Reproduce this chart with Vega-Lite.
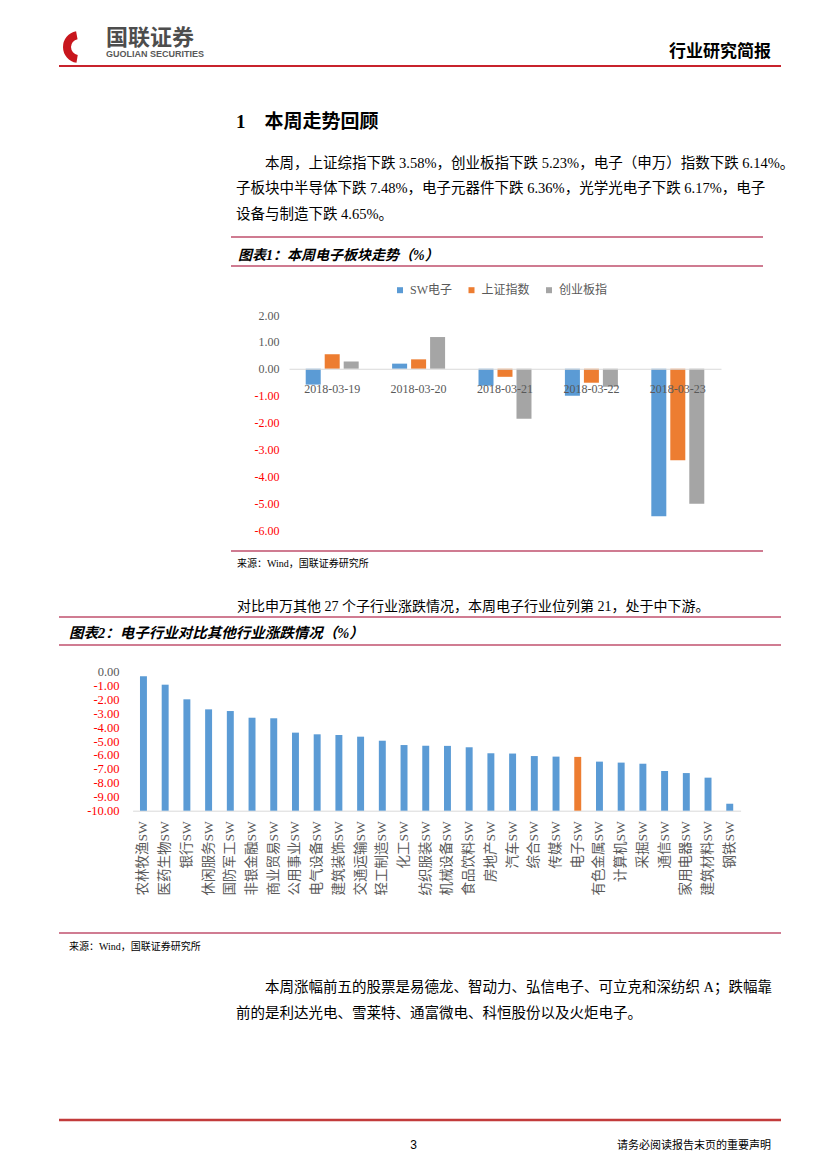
{
  "$schema": "https://vega.github.io/schema/vega-lite/v6.json",
  "padding": {"left": 57, "right": 45, "top": 0, "bottom": 0},
  "background": "white",
  "spacing": 0,
  "bounds": "flush",
  "config": {"view": {"stroke": null}, "concat": {"spacing": 0}, "axis": {"grid": false}},
  "datasets": {
    "weekly": [
      {"date": "2018-03-19", "series": "SW电子", "value": -0.59},
      {"date": "2018-03-19", "series": "上证指数", "value": 0.54},
      {"date": "2018-03-19", "series": "创业板指", "value": 0.27},
      {"date": "2018-03-20", "series": "SW电子", "value": 0.19},
      {"date": "2018-03-20", "series": "上证指数", "value": 0.35},
      {"date": "2018-03-20", "series": "创业板指", "value": 1.18},
      {"date": "2018-03-21", "series": "SW电子", "value": -0.63},
      {"date": "2018-03-21", "series": "上证指数", "value": -0.30},
      {"date": "2018-03-21", "series": "创业板指", "value": -1.86},
      {"date": "2018-03-22", "series": "SW电子", "value": -1.00},
      {"date": "2018-03-22", "series": "上证指数", "value": -0.52},
      {"date": "2018-03-22", "series": "创业板指", "value": -0.67},
      {"date": "2018-03-23", "series": "SW电子", "value": -5.49},
      {"date": "2018-03-23", "series": "上证指数", "value": -3.40},
      {"date": "2018-03-23", "series": "创业板指", "value": -5.02}
    ],
    "industry": [
      {"industry": "农林牧渔SW", "change": -0.36},
      {"industry": "医药生物SW", "change": -0.96},
      {"industry": "银行SW", "change": -2.01},
      {"industry": "休闲服务SW", "change": -2.73},
      {"industry": "国防军工SW", "change": -2.85},
      {"industry": "非银金融SW", "change": -3.33},
      {"industry": "商业贸易SW", "change": -3.37},
      {"industry": "公用事业SW", "change": -4.40},
      {"industry": "电气设备SW", "change": -4.52},
      {"industry": "建筑装饰SW", "change": -4.57},
      {"industry": "交通运输SW", "change": -4.69},
      {"industry": "轻工制造SW", "change": -4.98},
      {"industry": "化工SW", "change": -5.29},
      {"industry": "纺织服装SW", "change": -5.34},
      {"industry": "机械设备SW", "change": -5.35},
      {"industry": "食品饮料SW", "change": -5.45},
      {"industry": "房地产SW", "change": -5.88},
      {"industry": "汽车SW", "change": -5.90},
      {"industry": "综合SW", "change": -6.08},
      {"industry": "传媒SW", "change": -6.12},
      {"industry": "电子SW", "change": -6.14},
      {"industry": "有色金属SW", "change": -6.48},
      {"industry": "计算机SW", "change": -6.55},
      {"industry": "采掘SW", "change": -6.63},
      {"industry": "通信SW", "change": -7.15},
      {"industry": "家用电器SW", "change": -7.30},
      {"industry": "建筑材料SW", "change": -7.63},
      {"industry": "钢铁SW", "change": -9.50}
    ]
  },
  "vconcat": [
    {
      "width": 722, "height": 28, "data": {"values": []}, "mark": "point",
      "title": {"text": "行业研究简报", "orient": "bottom", "anchor": "end", "frame": "group", "offset": 0, "dx": -10, "dy": 15.5, "baseline": "top",
        "font": "Noto Sans CJK SC", "fontSize": 17, "fontWeight": "bold", "color": "#000000"}
    },
    {
      "width": 722, "height": 38,
      "view": {"stroke": "#C8232C", "strokeWidth": 2, "strokeDash": [0, 760, 722, 38]},
      "data": {"values": [{"part": "logo"}]},
      "mark": {"type": "arc", "theta": 3.3, "theta2": 6.1, "radius": 16, "radius2": 8, "color": "#C8161D", "clip": true},
      "encoding": {
        "x": {"field": "part", "type": "nominal", "scale": {"type": "point", "range": [0, 40]}, "axis": null}
      },
      "title": {"text": "国联证券", "subtitle": "GUOLIAN SECURITIES", "orient": "bottom", "anchor": "start", "frame": "group", "offset": 0, "dx": 47, "dy": -37.6, "baseline": "top",
        "font": "Noto Sans CJK SC", "fontSize": 22, "fontWeight": "bold", "color": "#4D4D4D",
        "subtitleFont": "Liberation Sans", "subtitleFontSize": 9, "subtitleFontWeight": "bold", "subtitleColor": "#595959", "subtitlePadding": 0}
    },
    {
      "width": 722, "height": 74, "data": {"values": []}, "mark": "point",
      "title": {"text": "1\u3000本周走势回顾",
        "orient": "bottom", "anchor": "start", "frame": "group", "offset": 0, "dx": 177, "dy": -26.8, "baseline": "top",
        "font": "Liberation Serif, Noto Sans CJK SC", "fontSize": 19, "fontWeight": "bold", "color": "#000000"}
    },
    {
      "width": 722, "height": 97, "data": {"values": []}, "mark": "point",
      "title": {"text": ["\u200B\u3000\u3000本周，上证综指下跌 3.58%，创业板指下跌 5.23%，电子（申万）指数下跌 6.14%。", "子板块中半导体下跌 7.48%，电子元器件下跌 6.36%，光学光电子下跌 6.17%，电子", "设备与制造下跌 4.65%。"],
        "orient": "bottom", "anchor": "start", "frame": "group", "offset": 0, "dx": 177, "dy": -80.5, "baseline": "top", "lineHeight": 25.5,
        "font": "Liberation Serif, Noto Sans CJK SC", "fontSize": 14.5, "fontWeight": "normal", "color": "#000000"}
    },
    {
      "width": 722, "height": 29, "data": {"values": []}, "mark": "point",
      "view": {"stroke": "#C0506E", "strokeWidth": 1.5, "strokeDash": [0, 172, 532, 798]},
      "title": {"text": "图表1：本周电子板块走势（%）", "orient": "bottom", "anchor": "start", "frame": "group", "offset": 0, "dx": 179, "dy": -16.9, "baseline": "top",
        "font": "Liberation Serif, Noto Sans CJK SC", "fontSize": 14, "fontWeight": "bold", "fontStyle": "italic", "color": "#000000"}
    },
    {
      "width": 722, "height": 285,
      "view": {"stroke": "#C0506E", "strokeWidth": 1.5, "strokeDash": [0, 172, 532, 321, 532, 457]},
      "data": {"name": "weekly"},
      "mark": {"type": "bar"},
      "encoding": {
        "x": {"field": "date", "type": "nominal", "sort": null,
          "scale": {"range": [230, 662], "paddingInner": 0, "paddingOuter": 0},
          "axis": {"orient": "bottom", "offset": -182.25, "title": null, "domainColor": "#D9D9D9", "domainWidth": 1, "ticks": false, "tickSize": 0, "labelPadding": 14.75, "labelAngle": 0,
            "labelFont": "Liberation Serif", "labelFontSize": 12, "labelColor": "#595959", "labelOverlap": false, "zindex": 1, "grid": false}},
        "xOffset": {"field": "series", "type": "nominal", "sort": ["SW电子", "上证指数", "创业板指"],
          "scale": {"paddingInner": 0.21, "paddingOuter": 0.88}},
        "y": {"field": "value", "type": "quantitative",
          "scale": {"domain": [-6, 2], "range": [264, 49], "nice": false},
          "axis": {"orient": "left", "offset": -220, "values": [2, 1, 0, -1, -2, -3, -4, -5, -6],
            "labelExpr": "replace(format(datum.value, '.2f'), '\u2212', '-')",
            "domain": false, "ticks": false, "tickSize": 0, "labelPadding": 0, "grid": false, "title": null,
            "labelFont": "Liberation Serif", "labelFontSize": 12, "labelFlush": false, "labelOverlap": false,
            "labelColor": {"condition": {"test": "datum.value < 0", "value": "#FF0000"}, "value": "#595959"}}},
        "color": {"field": "series", "type": "nominal", "sort": ["SW电子", "上证指数", "创业板指"],
          "scale": {"domain": ["SW电子", "上证指数", "创业板指"], "range": ["#5B9BD5", "#ED7D31", "#A5A5A5"]},
          "legend": {"orient": "none", "legendX": 335, "legendY": 284.2, "direction": "horizontal", "title": null, "padding": 0,
            "symbolType": "square", "symbolSize": 36, "symbolStrokeWidth": 0, "labelOffset": 4, "columnPadding": 12.5,
            "labelFont": "Liberation Serif, Noto Sans CJK SC", "labelFontSize": 12, "labelColor": "#595959"}}
      }
    },
    {
      "width": 722, "height": 66, "data": {"values": []}, "mark": "point",
      "view": {"stroke": "#C0506E", "strokeWidth": 1.5, "strokeDash": [0, 788, 722, 66]},
      "title": {"text": "来源：Wind，国联证券研究所", "subtitle": "对比申万其他 27 个子行业涨跌情况，本周电子行业位列第 21，处于中下游。",
        "orient": "bottom", "anchor": "start", "frame": "group", "offset": 0, "dx": 178, "dy": -58.2, "baseline": "top",
        "font": "Liberation Serif, Noto Sans CJK SC", "fontSize": 10, "fontWeight": "normal", "color": "#000000",
        "subtitleFont": "Liberation Serif, Noto Sans CJK SC", "subtitleFontSize": 14, "subtitleFontWeight": "normal", "subtitleColor": "#000000", "subtitlePadding": 31.5}
    },
    {
      "width": 722, "height": 28, "data": {"values": []}, "mark": "point",
      "view": {"stroke": "#C0506E", "strokeWidth": 1.5, "strokeDash": [0, 750, 722, 28]},
      "title": {"text": "图表2：电子行业对比其他行业涨跌情况（%）", "orient": "bottom", "anchor": "start", "frame": "group", "offset": 0, "dx": 10, "dy": -18.5, "baseline": "top",
        "font": "Liberation Serif, Noto Sans CJK SC", "fontSize": 14.5, "fontWeight": "bold", "fontStyle": "italic", "color": "#000000"}
    },
    {
      "width": 722, "height": 288,
      "view": {"stroke": "#C0506E", "strokeWidth": 1.5, "strokeDash": [0, 1010, 722, 288]},
      "data": {"name": "industry"},
      "mark": {"type": "bar"},
      "encoding": {
        "x": {"field": "industry", "type": "nominal", "sort": null,
          "scale": {"range": [73.6, 681.6], "paddingInner": 0.68, "paddingOuter": 0.34},
          "axis": {"orient": "bottom", "offset": -122.3, "title": null, "domainColor": "#D9D9D9", "domainWidth": 1, "ticks": false, "tickSize": 0, "labelPadding": 10,
            "labelAngle": -90, "labelAlign": "right", "labelBaseline": "middle",
            "labelFont": "Liberation Serif, Noto Sans CJK SC", "labelFontSize": 13.5, "labelColor": "#595959", "labelOverlap": false, "grid": false}},
        "y": {"field": "change", "type": "quantitative",
          "scale": {"domain": [-10, 0], "range": [165.7, 26.3], "nice": false},
          "axis": {"orient": "left", "offset": -60, "values": [0, -1, -2, -3, -4, -5, -6, -7, -8, -9, -10],
            "labelExpr": "replace(format(datum.value, '.2f'), '\u2212', '-')",
            "domain": false, "ticks": false, "tickSize": 0, "labelPadding": 0, "grid": false, "title": null,
            "labelFont": "Liberation Serif", "labelFontSize": 12.5, "labelFlush": false, "labelOverlap": false,
            "labelColor": {"condition": {"test": "datum.value < 0", "value": "#FF0000"}, "value": "#595959"}}},
        "y2": {"datum": -10},
        "color": {"condition": {"test": "datum.industry === '电子SW'", "value": "#ED7D31"}, "value": "#5B9BD5"}
      }
    },
    {
      "width": 722, "height": 25, "data": {"values": []}, "mark": "point",
      "title": {"text": "来源：Wind，国联证券研究所", "orient": "bottom", "anchor": "start", "frame": "group", "offset": 0, "dx": 10, "dy": -16.2, "baseline": "top",
        "font": "Liberation Serif, Noto Sans CJK SC", "fontSize": 10, "fontWeight": "normal", "color": "#000000"}
    },
    {
      "width": 722, "height": 162, "data": {"values": []}, "mark": "point",
      "view": {"stroke": "#C23B3B", "strokeWidth": 2.5, "strokeDash": [0, 884, 722, 162]},
      "title": {"text": ["\u200B\u3000\u3000本周涨幅前五的股票是易德龙、智动力、弘信电子、可立克和深纺织 A；跌幅靠", "前的是利达光电、雪莱特、通富微电、科恒股份以及火炬电子。"],
        "orient": "bottom", "anchor": "start", "frame": "group", "offset": 0, "dx": 177, "dy": -138.7, "baseline": "top", "lineHeight": 26,
        "font": "Liberation Serif, Noto Sans CJK SC", "fontSize": 14.5, "fontWeight": "normal", "color": "#000000"}
    },
    {
      "spacing": 0,
      "bounds": "flush",
      "hconcat": [
        {
          "width": 361, "height": 48, "data": {"values": []}, "mark": "point",
          "title": {"text": "3", "orient": "bottom", "anchor": "end", "frame": "group", "offset": 0, "dx": -3, "dy": -27.7, "baseline": "top",
            "font": "Liberation Sans", "fontSize": 12, "fontWeight": "normal", "color": "#000000"}
        },
        {
          "width": 361, "height": 48, "data": {"values": []}, "mark": "point",
          "title": {"text": "请务必阅读报告末页的重要声明", "orient": "bottom", "anchor": "end", "frame": "group", "offset": 0, "dx": -10, "dy": -27.8, "baseline": "top",
            "font": "Noto Sans CJK SC", "fontSize": 11, "fontWeight": "normal", "color": "#000000"}
        }
      ]
    }
  ]
}
